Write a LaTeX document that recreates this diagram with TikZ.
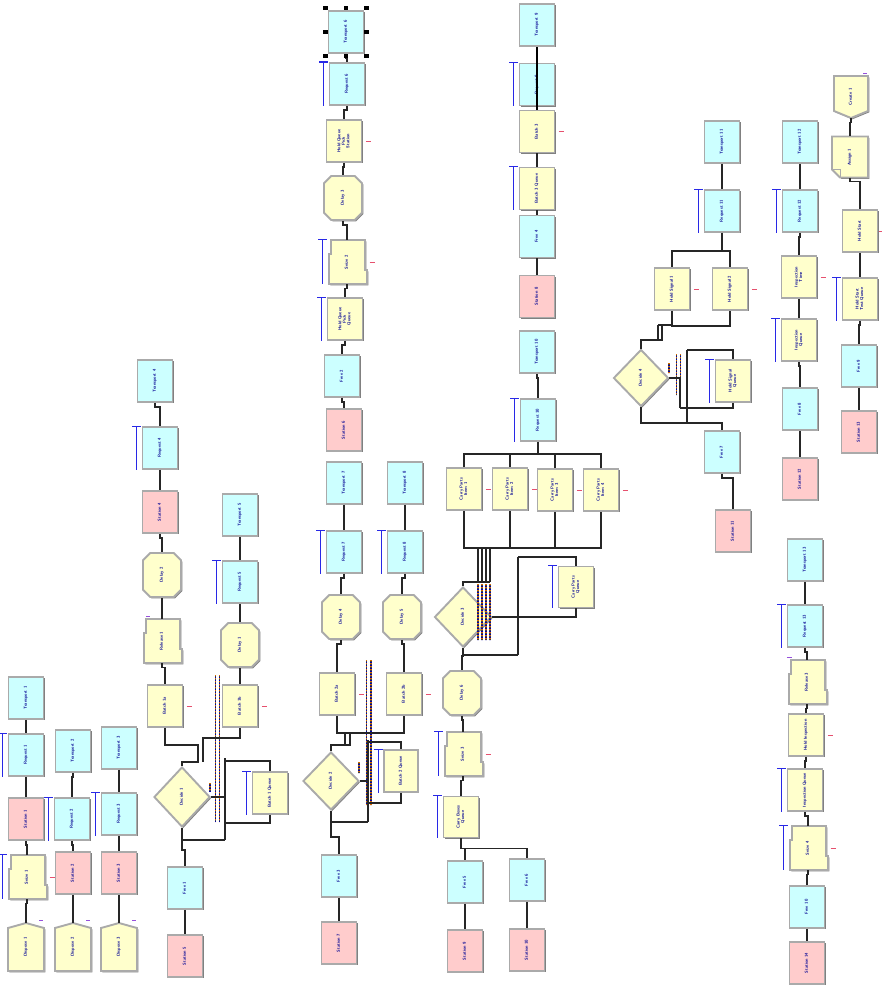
\documentclass[tikz,border=0pt]{standalone}
\usepackage{graphicx}
\usetikzlibrary{shapes.misc,shapes.geometric,shadows}
\definecolor{cyf}{RGB}{204,255,255}
\definecolor{pkf}{RGB}{255,204,204}
\definecolor{ylf}{RGB}{255,255,204}
\definecolor{brd}{RGB}{170,170,170}
\definecolor{lbl}{RGB}{10,10,150}
\definecolor{qblue}{RGB}{40,40,230}
\definecolor{qred}{RGB}{230,80,110}
\definecolor{qpur}{RGB}{150,80,220}
\newcommand\rt[1]{\rotatebox{90}{\begin{tabular}{@{}c@{}}#1\end{tabular}}}
\tikzset{
 base3d/.style={draw=brd, line width=1.9pt, drop shadow={shadow xshift=1.3pt, shadow yshift=-1.3pt, fill=black!50, opacity=1}},
 txt/.style={font=\fontsize{4.3}{4.5}\sffamily\bfseries\selectfont, text=lbl, align=center, inner sep=0pt},
 blk/.style={base3d, txt, rectangle, minimum width=35pt, minimum height=42pt},
 cy/.style={blk, fill=cyf},
 pk/.style={blk, fill=pkf},
 yl/.style={blk, fill=ylf},
 oct/.style={base3d, txt, chamfered rectangle, chamfered rectangle xsep=5pt, chamfered rectangle ysep=5pt, fill=ylf, minimum width=38pt, minimum height=44pt},
 dia/.style={base3d, txt, diamond, fill=ylf, minimum width=56pt, minimum height=60pt},
 cn/.style={draw=black!85, line width=1.15pt},
 qbl/.style={draw=qblue, line width=1.1pt},
 qrm/.style={draw=qred, line width=0.8pt},
 qpm/.style={draw=qpur, line width=0.8pt},
 dotsa/.style={line width=1.3pt, draw=orange!85!black, dash pattern=on 1pt off 2pt},
 dotsb/.style={line width=1.3pt, draw=blue!65!black, dash pattern=on 1pt off 2pt, dash phase=1pt},
 dotsc/.style={line width=1.3pt, draw=black!75, dash pattern=on 0.6pt off 2.4pt, dash phase=2pt},
}
\newcommand\seizeblk[4]{\begin{scope}[shift={(#2,#3)}]
 \path[base3d,fill=ylf] (-16,-22) -- (18,-22) -- (18,8) -- (20,8) -- (20,22) -- (-18,22) -- (-18,-8) -- (-16,-8) -- cycle;
 \node[txt,minimum width=38pt,minimum height=44pt] (#1) at (0,0) {\rt{#4}};
\end{scope}}
\newcommand\dispblk[4]{\begin{scope}[shift={(#2,#3)}]
 \path[base3d,fill=ylf] (-18,-19) -- (0,-24) -- (18,-19) -- (18,24) -- (-18,24) -- cycle;
 \node[txt,minimum width=36pt,minimum height=48pt] (#1) at (0,0) {\rt{#4}};
\end{scope}}
\newcommand\createblk[4]{\begin{scope}[shift={(#2,#3)}]
 \path[base3d,fill=ylf] (-17,-21) -- (17,-21) -- (17,14) -- (0,21) -- (-17,14) -- cycle;
 \node[txt,minimum width=34pt,minimum height=42pt] (#1) at (0,0) {\rt{#4}};
\end{scope}}
\newcommand\assignblk[4]{\begin{scope}[shift={(#2,#3)}]
 \path[base3d,fill=ylf] (-18,-20.5) -- (18,-20.5) -- (18,20.5) -- (-10,20.5) -- (-18,12.5) -- cycle;
 \draw[brd,line width=0.9pt] (-18,12.5) -- (-10,12.5) -- (-10,20.5);
 \node[txt,minimum width=36pt,minimum height=41pt] (#1) at (0,0) {\rt{#4}};
\end{scope}}
\newcommand\lnk[2]{\draw[cn] (#1.south) -- ++(0,4) -| (#2.north);}
\newcommand\qln[1]{\draw[qbl] ([xshift=-5pt]#1.north west) -- ([xshift=-5pt]#1.south west);
 \draw[qbl] ([xshift=-9.5pt]#1.north west) -- ([xshift=-0.5pt]#1.north west);}
\newcommand\qmk[1]{\draw[qrm] ([xshift=3.5pt]#1.east) -- ++(5,0);}
\newcommand\pmk[1]{\draw[qpm] ([shift={(-5pt,2pt)}]#1.north east) -- ++(4,0);}
\newcommand\dstack[3]{\draw[dotsa] (#1,#2) -- (#1,#3); \draw[dotsb] (#1,#2) -- (#1,#3); \draw[dotsc] (#1,#2) -- (#1,#3);}
\begin{document}
\begin{tikzpicture}[x=1pt,y=-1pt]
\useasboundingbox (0,0) rectangle (882,990);
\fill[white] (0,0) rectangle (882,990);

% ---------- column A
\node[cy] (A1) at (26,698) {\rt{Transport 1}};
\node[cy] (A2) at (26,755) {\rt{Request 1}};
\node[pk] (A3) at (26,819) {\rt{Station 1}};
\seizeblk{A4}{27}{877}{Seize 1}
\dispblk{A5}{26}{947}{Dispose 1}
% ---------- column B
\node[cy] (B1) at (73,751) {\rt{Transport 2}};
\node[cy] (B2) at (72,819) {\rt{Request 2}};
\node[pk] (B3) at (73,873) {\rt{Station 2}};
\dispblk{B4}{73}{947}{Dispose 2}
% ---------- column C
\node[cy] (C1) at (119,748) {\rt{Transport 3}};
\node[cy] (C2) at (119,814) {\rt{Request 3}};
\node[pk] (C3) at (119,873) {\rt{Station 3}};
\dispblk{C4}{119}{947}{Dispose 3}
% ---------- column D
\node[cy] (D1) at (155,381) {\rt{Transport 4}};
\node[cy] (D2) at (160,448) {\rt{Request 4}};
\node[pk] (D3) at (160,512) {\rt{Station 4}};
\node[oct] (D4) at (162,575) {\rt{Delay 2}};
\seizeblk{D5}{162}{641}{Release 1}
\node[yl] (D6) at (165,706) {\rt{Batch 1a}};
\node[dia] (D7) at (182,797) {\rt{Decide 1}};
\node[cy] (D8) at (185,888) {\rt{Free 1}};
\node[pk] (D9) at (185,956) {\rt{Station 5}};
% ---------- column E
\node[cy] (E1) at (240,515) {\rt{Transport 5}};
\node[cy] (E2) at (240,582) {\rt{Request 5}};
\node[oct] (E3) at (240,645) {\rt{Delay 1}};
\node[yl] (E4) at (240,706) {\rt{Batch 1b}};
\node[yl] (E5) at (270,793) {\rt{Batch 1 Queue}};
% ---------- column F
\node[cy] (F1) at (346,32) {\rt{Transport 6}};
\node[cy] (F2) at (347,84) {\rt{Request 6}};
\node[yl] (F3) at (344,141) {\rt{Hold Queue\\Pick\\Station}};
\node[oct] (F4) at (343,198) {\rt{Delay 3}};
\seizeblk{F5}{347}{262}{Seize 2}
\node[yl] (F6) at (345,319) {\rt{Hold Queue\\Pick\\Queue}};
\node[cy] (F7) at (342,376) {\rt{Free 2}};
\node[pk] (F8) at (344,430) {\rt{Station 6}};
% ---------- column G
\node[cy] (G1) at (344,483) {\rt{Transport 7}};
\node[cy] (G2) at (344,552) {\rt{Request 7}};
\node[oct] (G3) at (341,617) {\rt{Delay 4}};
\node[yl] (G4) at (337,694) {\rt{Batch 2a}};
\node[dia,minimum height=58pt] (G5) at (331,781) {\rt{Decide 2}};
\node[cy] (G6) at (339,876) {\rt{Free 3}};
\node[pk] (G7) at (339,943) {\rt{Station 7}};
% ---------- column H
\node[cy] (H1) at (405,483) {\rt{Transport 8}};
\node[cy] (H2) at (405,552) {\rt{Request 8}};
\node[oct] (H3) at (402,617) {\rt{Delay 5}};
\node[yl] (H4) at (404,694) {\rt{Batch 2b}};
\node[yl,minimum width=34pt] (H5) at (401,771) {\rt{Batch 2 Queue}};
% ---------- column I
\node[cy] (I1) at (537,25) {\rt{Transport 9}};
\node[cy] (I2) at (537,84.5) {\rt{Request 9}};
\node[yl] (I3) at (537,131.5) {\rt{Batch 3}};
\node[yl] (I4) at (537,188.5) {\rt{Batch 3 Queue}};
\node[cy] (I5) at (537,236.5) {\rt{Free 4}};
\node[pk] (I6) at (537,296.5) {\rt{Station 8}};
\node[cy] (I7) at (537,352) {\rt{Transport 10}};
\node[cy] (I8) at (538,420) {\rt{Request 10}};
% ---------- cluster J/K/L/M
\node[yl] (J1) at (464,489) {\rt{Carry Parts\\Item 1}};
\node[yl] (J2) at (510,489) {\rt{Carry Parts\\Item 2}};
\node[yl] (J3) at (555,490) {\rt{Carry Parts\\Item 3}};
\node[yl] (J4) at (601,490) {\rt{Carry Parts\\Item 4}};
\node[dia,minimum width=57pt] (K) at (463,617) {\rt{Decide 3}};
\node[yl,minimum height=41pt] (K2) at (576,587) {\rt{Carry Parts\\Queue}};
\node[oct] (L1) at (462,693) {\rt{Delay 6}};
\seizeblk{L2}{463}{754}{Seize 3}
\node[yl,minimum height=41pt] (L3) at (461,817) {\rt{Carry Boxes\\Queue}};
\node[cy] (M1) at (465,882) {\rt{Free 5}};
\node[cy] (M2) at (527,880) {\rt{Free 6}};
\node[pk] (M3) at (465,951) {\rt{Station 9}};
\node[pk] (M4) at (527,950) {\rt{Station 10}};
% ---------- cluster N
\node[cy] (N1) at (722,142) {\rt{Transport 11}};
\node[cy] (N2) at (722,211) {\rt{Request 11}};
\node[yl] (N3) at (672,289) {\rt{Hold Signal 1}};
\node[yl] (N4) at (730,289) {\rt{Hold Signal 2}};
\node[dia,minimum width=55pt,minimum height=57pt] (N5) at (641,378) {\rt{Decide 4}};
\node[yl] (N6) at (733,381) {\rt{Hold Signal\\Queue}};
\node[cy] (N7) at (722,452) {\rt{Free 7}};
\node[pk] (N8) at (733,531) {\rt{Station 11}};
% ---------- column O
\node[cy] (O1) at (800,142) {\rt{Transport 12}};
\node[cy] (O2) at (800,211) {\rt{Request 12}};
\node[yl] (O3) at (799,277) {\rt{Inspection\\Time}};
\node[yl] (O4) at (799,340) {\rt{Inspection\\Queue}};
\node[cy] (O5) at (800,409) {\rt{Free 8}};
\node[pk] (O6) at (800,479) {\rt{Station 12}};
% ---------- column P
\createblk{P1}{851}{97}{Create 1}
\assignblk{P2}{850}{157}{Assign 1}
\node[yl] (P3) at (860,231) {\rt{Hold Start}};
\node[yl] (P4) at (860,299) {\rt{Hold Start\\Test Queue}};
\node[cy] (P5) at (859,366) {\rt{Free 9}};
\node[pk] (P6) at (859,432) {\rt{Station 13}};
% ---------- column Q
\node[cy] (Q1) at (805,560) {\rt{Transport 13}};
\node[cy] (Q2) at (805,626) {\rt{Request 13}};
\seizeblk{Q3}{807}{682}{Release 3}
\node[yl] (Q4) at (806,735) {\rt{Hold Inspection}};
\node[yl] (Q5) at (805,790) {\rt{Inspection Queue}};
\seizeblk{Q6}{808}{848}{Seize 4}
\node[cy] (Q7) at (807,907) {\rt{Free 10}};
\node[pk] (Q8) at (807,963) {\rt{Station 14}};

% ---------- simple chains
\lnk{A1}{A2}\lnk{A2}{A3}\lnk{A3}{A4}\lnk{A4}{A5}
\lnk{B1}{B2}\lnk{B2}{B3}\lnk{B3}{B4}
\lnk{C1}{C2}\lnk{C2}{C3}\lnk{C3}{C4}
\lnk{D1}{D2}\lnk{D2}{D3}\lnk{D3}{D4}\lnk{D4}{D5}\lnk{D5}{D6}\lnk{D8}{D9}
\lnk{E1}{E2}\lnk{E2}{E3}\lnk{E3}{E4}
\lnk{F1}{F2}\lnk{F2}{F3}\lnk{F3}{F4}\lnk{F4}{F5}\lnk{F5}{F6}\lnk{F6}{F7}\lnk{F7}{F8}
\lnk{G1}{G2}\lnk{G2}{G3}\lnk{G3}{G4}\lnk{G6}{G7}
\lnk{H1}{H2}\lnk{H2}{H3}\lnk{H3}{H4}
\draw[line width=2.2pt,black] (I1.south) -- (I3.north);
\lnk{I3}{I4}\lnk{I4}{I5}\lnk{I5}{I6}\lnk{I7}{I8}
\lnk{L1}{L2}\lnk{L2}{L3}\lnk{M1}{M3}\lnk{M2}{M4}
\lnk{N1}{N2}\lnk{N7}{N8}
\lnk{O1}{O2}\lnk{O2}{O3}\lnk{O3}{O4}\lnk{O4}{O5}\lnk{O5}{O6}
\lnk{P1}{P2}\lnk{P2}{P3}\lnk{P3}{P4}\lnk{P4}{P5}\lnk{P5}{P6}
\lnk{Q1}{Q2}\lnk{Q2}{Q3}\lnk{Q3}{Q4}\lnk{Q4}{Q5}\lnk{Q5}{Q6}\lnk{Q6}{Q7}\lnk{Q7}{Q8}

% ---------- cluster D/E
\dstack{215.5}{675}{822}\dstack{219.5}{675}{822}
\dstack{210}{783}{792}
\coordinate (dA) at (198,745);
\coordinate (dB) at (203,738);
\coordinate (dC) at (225,758);
\coordinate (dD) at (225,840);
\draw[cn] (D6.south) |- (dA) -- (198,762) -| (D7.north);
\draw[cn] (E4.south) |- (dB) -- (203,762);
\draw[cn] (D7.east) -- (225,797);
\draw[cn] (dC) -- (dD);
\draw[cn] (225,761) -| (E5.north);
\draw[cn] (E5.south) |- (225,823);
\draw[cn] (D7.south) |- (dD);
\draw[cn] (D7.south) -- ++(0,22) -| (D8.north);

% ---------- cluster G/H
\dstack{366.5}{660}{805}\dstack{371}{660}{805}
\dstack{359}{762}{773}
\coordinate (gA) at (368,740);
\coordinate (gB) at (368,822);
\draw[cn] (G4.south) -- ++(0,17) -| (H4.south);
\draw[cn] (345,732) -- (345,745);
\draw[cn] (350,732) -- (350,745) -| (G5.north);
\draw[cn] (G5.east) -- (368,781);
\draw[cn] (gA) -- (gB);
\draw[cn] (368,742) -| (H5.north);
\draw[cn] (H5.south) |- (368,803);
\draw[cn] (G5.south) |- (gB);
\draw[cn] (G5.south) -- ++(0,26) -| (G6.north);

% ---------- cluster J/K
\draw[cn] (I8.south) -- ++(0,13);
\draw[cn] (J1.north) -- ++(0,-13) -| (J4.north);
\draw[cn] (J2.north) -- ++(0,-13);
\draw[cn] (J3.north) -- ++(0,-13);
\draw[cn] (J1.south) -- ++(0,37) -| (J4.south);
\draw[cn] (J2.south) -- ++(0,37);
\draw[cn] (J3.south) -- ++(0,36);
\foreach \xx in {478,482,486,490} \draw[cn] (\xx,547) -- (\xx,582);
\draw[cn] (490,582) -| (K.north);
\foreach \xx in {478,482,486,490} {\dstack{\xx}{584}{640}}
\coordinate (kA) at (518,557);
\coordinate (kB) at (518,655);
\draw[cn] (K.east) -| (K2.south);
\draw[cn] (kA) -- (kB);
\draw[cn] (kA) -| (K2.north);
\draw[cn] (K.south) |- (kB);
\draw[cn] (K.south) -- ++(0,8) -| (L1.north);
\draw[cn] (L3.south) -- ++(0,10) -| (M1.north);
\draw[cn] (L3.south) -- ++(0,10) -| (M2.north);

% ---------- cluster N
\dstack{676.5}{354}{395}\dstack{680.5}{354}{395}
\dstack{669}{363}{373}
\coordinate (nA) at (687,350);
\coordinate (nB) at (687,422);
\draw[cn] (N2.south) -- ++(0,18) -| (N3.north);
\draw[cn] (N2.south) -- ++(0,18) -| (N4.north);
\draw[cn] (N3.south) -- ++(0,15) -| (N4.south);
\draw[cn] (658,325) -- (672,325);
\draw[cn] (658,325) -- (658,340);
\draw[cn] (662,325) -- (662,340) -| (N5.north);
\draw[cn] (N5.east) -| (680,408);
\draw[cn] (N6.south) |- (680,408);
\draw[cn] (nA) -- (nB);
\draw[cn] (nA) -| (N6.north);
\draw[cn] (N5.south) -- ++(0,15.5) -| (N7.north);

% ---------- queue lines
\foreach \q in {A2,A4,B2,C2,D2,E2,E5,F2,F5,F6,G2,H2,H5,I2,I4,I8,K2,L2,L3,N2,N6,O2,O4,P4,Q2,Q5,Q6} {\qln{\q}}
% ---------- small marks
\foreach \q in {A4,D6,E4,F3,F5,G4,H4,I3,J1,J2,J3,J4,L2,N3,N4,O3,Q4,Q6} {\qmk{\q}}
\foreach \q in {A5,B4,C4,P1} {\pmk{\q}}
\draw[qpm] ([shift={(-1pt,2pt)}]Q3.north west) -- ++(5,0);
\draw[qpm] ([shift={(3pt,2pt)}]D5.north west) -- ++(4,0);
\draw[qrm] (879,231) -- (882,231);

% ---------- selection handles on F1
\foreach \hx/\hy in {325.5/8,346/8,366.5/8,325.5/32,366.5/32,325.5/56,346/56,366.5/56}
  \fill[black] (\hx-2.2,\hy-2.2) rectangle (\hx+2.2,\hy+2.2);
\end{tikzpicture}
\end{document}
